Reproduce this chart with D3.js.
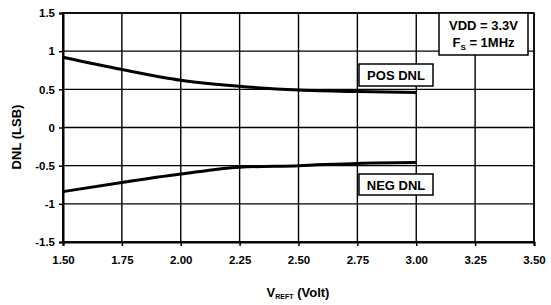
<!DOCTYPE html>
<style>
    body { margin: 0; background: #fff; }
    svg text { font-family: 'Liberation Sans', Arial, sans-serif; font-weight: bold; fill: #000; }
    .grid line { stroke: #000; stroke-width: 1.4; }
</style>
<svg width="551" height="305"></svg>
<script src="https://d3js.org/d3.v7.min.js"></script>
<script>
    // data
    var vref = [1.50, 1.75, 2.00, 2.25, 2.50, 2.75, 3.00];
    var posDnl = [0.92, 0.76, 0.62, 0.54, 0.49, 0.47, 0.46];
    var negDnl = [-0.84, -0.72, -0.61, -0.52, -0.50, -0.47, -0.46];
    var xTicks = [1.50, 1.75, 2.00, 2.25, 2.50, 2.75, 3.00, 3.25, 3.50];
    var yTicks = [-1.5, -1, -0.5, 0, 0.5, 1, 1.5];

    var svg = d3.select("svg"),
        margin = {top: 13, right: 17, bottom: 63, left: 63},
        width = +svg.attr("width") - margin.left - margin.right,
        height = +svg.attr("height") - margin.top - margin.bottom,
        g = svg.append("g").attr("transform", "translate(" + margin.left + "," + margin.top + ")");

    var x = d3.scaleLinear().domain([1.5, 3.5]).range([0, width]);
    var y = d3.scaleLinear().domain([-1.5, 1.5]).range([height, 0]);

    // grid
    var grid = g.append("g").attr("class", "grid");
    grid.selectAll(".h").data(yTicks).enter().append("line")
        .attr("x1", 0).attr("x2", width)
        .attr("y1", function(d) { return y(d); })
        .attr("y2", function(d) { return y(d); });
    grid.selectAll(".v").data(xTicks).enter().append("line")
        .attr("y1", 0).attr("y2", height)
        .attr("x1", function(d) { return x(d); })
        .attr("x2", function(d) { return x(d); });

    // axes
    var xAxis = g.append("g")
        .attr("transform", "translate(0," + height + ")")
        .call(d3.axisBottom(x).tickValues(xTicks).tickFormat(d3.format(".2f")).tickSize(4).tickPadding(10));
    var yAxis = g.append("g")
        .call(d3.axisLeft(y).tickValues(yTicks).tickFormat(function(d) { return d; }).tickSize(4).tickPadding(4));
    [xAxis, yAxis].forEach(function(a) {
        a.select(".domain").attr("stroke", "#000").attr("stroke-width", 2);
        a.selectAll(".tick line").attr("stroke", "#000").attr("stroke-width", 1.5);
        a.selectAll("text").style("font-size", "11.5px").attr("font-family", null);
    });

    // frame
    g.append("rect").attr("width", width).attr("height", height)
        .attr("fill", "none").attr("stroke", "#000").attr("stroke-width", 1.5);

    // curves
    var line = d3.line()
        .x(function(d, i) { return x(vref[i]); })
        .y(function(d) { return y(d); })
        .curve(d3.curveMonotoneX);
    [posDnl, negDnl].forEach(function(s) {
        g.append("path").datum(s)
            .attr("fill", "none").attr("stroke", "#000").attr("stroke-width", 3)
            .attr("d", line);
    });

    // label boxes
    function box(x0, y0, w, h, lines) {
        var b = svg.append("g").attr("transform", "translate(" + x0 + "," + y0 + ")");
        b.append("rect").attr("width", w).attr("height", h)
            .attr("fill", "#fff").attr("stroke", "#000").attr("stroke-width", 1.5);
        lines.forEach(function(t, i) {
            var tx = b.append("text").attr("x", w / 2).attr("y", lines.length == 1 ? h / 2 + 5 : 17 + i * 17)
                .attr("text-anchor", "middle").style("font-size", "13px");
            t(tx);
        });
    }
    box(359, 64, 74, 22, [function(t) { t.text("POS DNL"); }]);
    box(359, 174, 74, 21, [function(t) { t.text("NEG DNL"); }]);
    box(439, 13, 89, 42, [
        function(t) { t.text("VDD = 3.3V"); },
        function(t) {
            t.append("tspan").text("F");
            t.append("tspan").attr("dy", 3).style("font-size", "8px").text("S");
            t.append("tspan").attr("dy", -3).text(" = 1MHz");
        }
    ]);

    // axis titles
    var xt = svg.append("text").attr("x", 298).attr("y", 297)
        .attr("text-anchor", "middle").style("font-size", "13px");
    xt.append("tspan").text("V");
    xt.append("tspan").attr("dy", 2).style("font-size", "7px").text("REFT");
    xt.append("tspan").attr("dy", -2).text(" (Volt)");

    svg.append("text")
        .attr("transform", "translate(21," + 137 + ") rotate(-90)")
        .attr("text-anchor", "middle").style("font-size", "13px")
        .text("DNL (LSB)");
</script>
